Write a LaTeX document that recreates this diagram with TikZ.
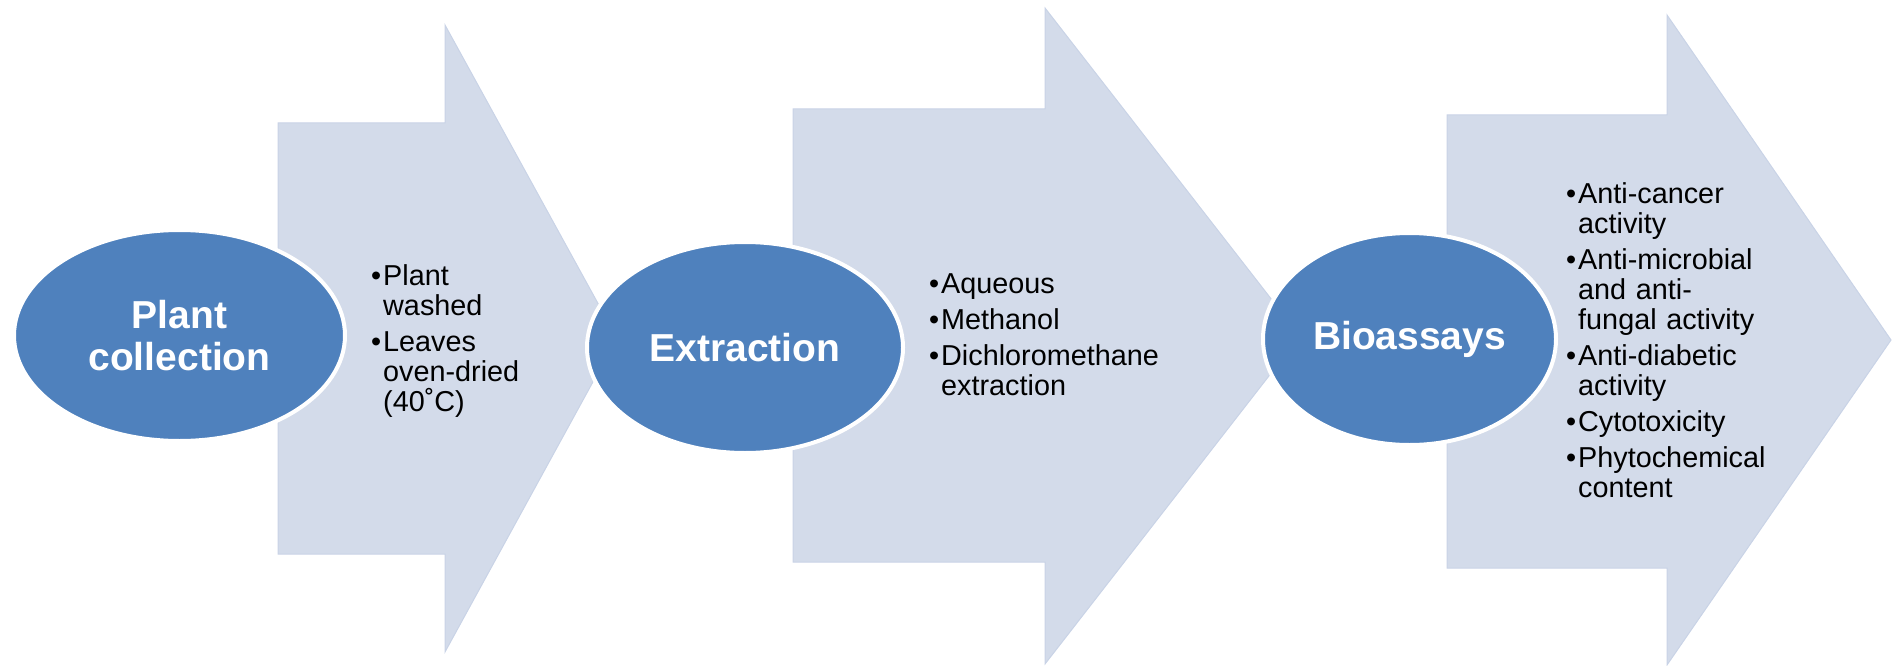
\documentclass[tikz,border=0pt]{standalone}
\usepackage{fontspec}
\setmainfont{Liberation Sans}
\usepackage{tikz}
\usetikzlibrary{shapes.geometric,positioning}
\definecolor{stageblue}{HTML}{4F81BD}
\definecolor{flowgray}{HTML}{D3DBEA}
\definecolor{flowedge}{HTML}{C9D3E6}
\newcommand{\bitem}[1]{\hangindent=12pt\hangafter=1\noindent\makebox[12pt][l]{\textbullet}#1\par}

\begin{document}
\begin{tikzpicture}[x=1pt,y=-1pt,
    stage/.style={ellipse, fill=stageblue, draw=white, line width=4pt, inner sep=0pt,
      text=white, font=\fontsize{39}{42}\selectfont\bfseries, align=center},
    flow/.style={fill=flowgray, draw=flowedge, line width=1pt},
    notes/.style={anchor=base west, inner sep=0pt, text width=#1, align=left,
      font=\fontsize{28.8}{30}\selectfont, execute at begin node={\setlength{\parskip}{6pt}}}
    ]
  \useasboundingbox (0,0) rectangle (1892,666);
  % big arrows
  \path[flow] (278,123) -- (445,123) -- (445,25) -- (617,338) -- (445,652) -- (445,554) -- (278,554) -- cycle;
  \path[flow] (793,109) -- (1045,109) -- (1045,8) -- (1300,336) -- (1045,664) -- (1045,562) -- (793,562) -- cycle;
  \path[flow] (1447,115) -- (1667,115) -- (1667,15) -- (1891,340) -- (1667,665) -- (1667,568) -- (1447,568) -- cycle;
  % stages
  \node[stage, minimum width=331pt, minimum height=211pt] (collect) at (179.5,335.5) {Plant\\collection};
  \node[stage, minimum width=316pt, minimum height=211pt] (extract) at (745,347.5) {Extraction};
  \node[stage, minimum width=293pt, minimum height=212pt] (assay) at (1409.5,339) {Bioassays};
  % bullet lists
  \node[notes=200pt] (collectnotes) at (371,285)
    {\bitem{Plant\newline washed}\bitem{Leaves\newline oven-dried\newline (40˚C)}};
  \node[notes=260pt] (extractnotes) at (929,293)
    {\bitem{Aqueous}\bitem{Methanol}\bitem{Dichloromethane\newline extraction}};
  \node[notes=260pt] (assaynotes) at (1566,203)
    {\bitem{Anti-cancer\newline activity}\bitem{Anti-microbial\newline and anti-\newline fungal activity}%
     \bitem{Anti-diabetic\newline activity}\bitem{Cytotoxicity}\bitem{Phytochemical\newline content}};
\end{tikzpicture}
\end{document}
